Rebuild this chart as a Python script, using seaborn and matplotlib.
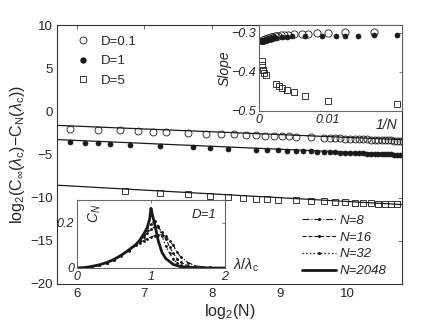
import numpy as np
import pandas as pd
import matplotlib
matplotlib.use("Agg")
import matplotlib.pyplot as plt
import seaborn as sns
from matplotlib.lines import Line2D

# ---------------- main panel data ----------------
N_D01 = [60, 80, 100, 120, 140, 160, 200, 240, 280, 320, 360, 400, 440, 480, 520,
         560, 600, 700, 800, 850, 900, 950, 1000, 1050, 1100, 1150, 1200, 1250,
         1300, 1350, 1400, 1450, 1500, 1550, 1600, 1650, 1700, 1750, 1800]
y_D01 = [-2.00, -2.12, -2.22, -2.28, -2.35, -2.40, -2.51, -2.57, -2.62, -2.67,
         -2.72, -2.77, -2.80, -2.84, -2.88, -2.91, -2.94, -3.00, -3.06, -3.09,
         -3.11, -3.14, -3.16, -3.18, -3.20, -3.22, -3.24, -3.26, -3.28, -3.29,
         -3.31, -3.32, -3.34, -3.35, -3.37, -3.38, -3.39, -3.41, -3.42]

N_D1 = [60, 70, 80, 90, 110, 150, 210, 250, 300, 400, 450, 500, 550, 600, 650,
        700, 750, 800, 850, 900, 950, 1000, 1050, 1100, 1150, 1200, 1250, 1300,
        1350, 1400, 1450, 1500, 1550, 1600, 1650, 1700, 1750, 1800]
y_D1 = [-3.56, -3.63, -3.67, -3.74, -3.86, -4.02, -4.14, -4.20, -4.32, -4.44,
        -4.48, -4.52, -4.55, -4.59, -4.62, -4.65, -4.68, -4.71, -4.73, -4.76,
        -4.78, -4.80, -4.82, -4.84, -4.86, -4.87, -4.89, -4.91, -4.92, -4.94,
        -4.95, -4.97, -4.98, -4.99, -5.01, -5.02, -5.03, -5.04]

N_D5 = [105, 150, 200, 250, 300, 350, 400, 450, 500, 600, 700, 800, 900, 1000,
        1100, 1200, 1300, 1400, 1500, 1600, 1700]
y_D5 = [-9.23, -9.46, -9.61, -9.75, -9.93, -10.00, -10.11, -10.19, -10.23,
        -10.30, -10.37, -10.43, -10.49, -10.53, -10.58, -10.62, -10.66, -10.69,
        -10.72, -10.75, -10.78]

fit_x = [5.7, 10.8]
fit_D01 = [-1.62, -3.28]
fit_D1 = [-3.27, -5.00]
fit_D5 = [-8.55, -10.80]

# ---------------- inset 1: slope vs 1/N ----------------
slope_N_D01 = [60, 80, 100, 120, 140, 160, 200, 240, 280, 320, 360, 400, 440, 480,
               520, 560, 600, 700, 800, 900, 1000, 1200, 1400, 1600, 1800]
slope_D01 = [-0.297, -0.298, -0.300, -0.301, -0.302, -0.303, -0.304, -0.305,
             -0.305, -0.306, -0.307, -0.308, -0.309, -0.310, -0.311, -0.311,
             -0.312, -0.313, -0.314, -0.315, -0.316, -0.317, -0.318, -0.318, -0.319]

slope_N_D1 = [50, 60, 70, 80, 90, 110, 150, 210, 250, 300, 400, 450, 500, 550, 600,
              650, 700, 750, 800, 850, 900, 950, 1000, 1100, 1200, 1300, 1400, 1500,
              1600, 1800, 2000, 2200, 2400, 2700, 3000, 3500, 4000, 5000, 6000, 8000]
slope_D1 = [-0.305, -0.305, -0.307, -0.308, -0.308, -0.309, -0.309, -0.309, -0.310,
            -0.311, -0.313, -0.313, -0.314, -0.314, -0.315, -0.315, -0.316, -0.316,
            -0.317, -0.317, -0.317, -0.318, -0.318, -0.318, -0.319, -0.319, -0.319,
            -0.320, -0.320, -0.320, -0.320, -0.321, -0.321, -0.321, -0.321, -0.322,
            -0.322, -0.322, -0.322, -0.322]

slope_invN_D5 = [0.0200, 0.0100, 0.00667, 0.0050, 0.0040, 0.00333, 0.00286,
                 0.0025, 0.0010, 0.00077, 0.00059, 0.00048, 0.00039]
slope_D5 = [-0.483, -0.474, -0.462, -0.452, -0.446, -0.441, -0.437, -0.431,
            -0.409, -0.402, -0.395, -0.382, -0.371]

# ---------------- inset 2: C_N(lambda), D=1 ----------------
lam = [0, 0.1, 0.2, 0.3, 0.4, 0.5, 0.6, 0.7, 0.8, 0.85, 0.9, 0.95, 1.0, 1.05,
       1.1, 1.15, 1.2, 1.25, 1.3, 1.35, 1.4, 1.5, 1.6, 1.7, 1.8, 1.9, 2.0]
C_8 = [0, 0.002, 0.007, 0.014, 0.024, 0.037, 0.055, 0.077, 0.100, 0.112, 0.122,
       0.131, 0.138, 0.144, 0.148, 0.148, 0.140, 0.122, 0.100, 0.072, 0.050,
       0.024, 0.010, 0.005, 0.003, 0.001, 0.0]
C_16 = [0, 0.002, 0.007, 0.014, 0.024, 0.037, 0.056, 0.079, 0.105, 0.121, 0.138,
        0.156, 0.172, 0.183, 0.180, 0.160, 0.128, 0.095, 0.065, 0.042, 0.026,
        0.010, 0.004, 0.002, 0.001, 0.0, 0.0]
C_32 = [0, 0.002, 0.007, 0.014, 0.024, 0.038, 0.056, 0.080, 0.108, 0.125, 0.145,
        0.170, 0.195, 0.208, 0.185, 0.140, 0.098, 0.065, 0.040, 0.024, 0.014,
        0.005, 0.002, 0.001, 0.0, 0.0, 0.0]
lam_2048 = [0, 0.1, 0.2, 0.3, 0.4, 0.5, 0.6, 0.7, 0.8, 0.85, 0.9, 0.95, 0.98, 1.0,
            1.02, 1.05, 1.1, 1.15, 1.2, 1.3, 1.4, 1.5, 1.6, 1.8, 2.0]
C_2048 = [0, 0.002, 0.007, 0.014, 0.024, 0.038, 0.057, 0.080, 0.105, 0.125, 0.150,
          0.180, 0.215, 0.265, 0.235, 0.195, 0.118, 0.068, 0.042, 0.016, 0.006,
          0.003, 0.001, 0.0, 0.0]

# ---------------- styling ----------------
sns.set_theme(style="white")
plt.rcParams["font.family"] = ["Liberation Sans", "DejaVu Sans"]
plt.rcParams["mathtext.fontset"] = "custom"
plt.rcParams["mathtext.rm"] = "Liberation Sans"
plt.rcParams["mathtext.it"] = "Liberation Sans:italic"
plt.rcParams["mathtext.bf"] = "Liberation Sans:bold"

W, H = 436, 328
fig = plt.figure(figsize=(W / 100, H / 100), dpi=100)

def frac(x0, y0, x1, y1):
    return [x0 / W, 1 - y1 / H, (x1 - x0) / W, (y1 - y0) / H]

# ---------- main axes ----------
ax = fig.add_axes(frac(57, 25, 402, 284))
ink = "#1a1a1a"

for fy in (fit_D01, fit_D1, fit_D5):
    sns.lineplot(x=fit_x, y=fy, ax=ax, color="k", lw=0.9, sort=False,
                 estimator=None)

sns.lineplot(x=np.log2(N_D01), y=y_D01, ax=ax, color="k", ls="", marker="o",
             ms=5.0, mfc="none", mec=ink, mew=0.6, estimator=None, sort=False)
sns.lineplot(x=np.log2(N_D1), y=y_D1, ax=ax, color="k", ls="", marker="o",
             ms=3.6, mfc="k", mec="k", mew=0.5, estimator=None, sort=False)
sns.lineplot(x=np.log2(N_D5), y=y_D5, ax=ax, color="k", ls="", marker="s",
             ms=4.2, mfc="none", mec=ink, mew=0.6, estimator=None, sort=False)

ax.set_xlim(5.71, 10.80)
ax.set_ylim(-20, 10)
ax.set_xticks([6, 7, 8, 9, 10])
ax.set_yticks([-20, -15, -10, -5, 0, 5, 10])
ax.tick_params(direction="in", length=3, width=0.6, top=True, right=True,
               labelsize=9.5, pad=3, color="#555555")
for s in ax.spines.values():
    s.set_color("#333333")
    s.set_linewidth(0.8)
ax.set_xlabel("log$_2$(N)", fontsize=11.5, labelpad=1)
ax.set_ylabel("log$_2$(C$_\\infty$($\\lambda_\\mathrm{c}$)$-$C$_\\mathrm{N}$($\\lambda_\\mathrm{c}$))",
              fontsize=11.5, labelpad=2)

h_main = [
    Line2D([], [], ls="", marker="o", ms=5.0, mfc="none", mec=ink, mew=0.6),
    Line2D([], [], ls="", marker="o", ms=3.6, mfc="k", mec="k"),
    Line2D([], [], ls="", marker="s", ms=4.2, mfc="none", mec=ink, mew=0.6),
]
ax.legend(h_main, ["D=0.1", "D=1", "D=5"], loc="upper left",
          bbox_to_anchor=(0.015, 1.0), frameon=False, fontsize=9.5,
          handletextpad=0.6, labelspacing=0.55, borderpad=0.3, handlelength=1.5)

# ---------- inset 1 ----------
ax1 = fig.add_axes(frac(259, 25, 402, 111))
ax1.set_facecolor("white")
sns.lineplot(x=1 / np.array(slope_N_D01), y=slope_D01, ax=ax1, color="k", ls="",
             marker="o", ms=5.2, mfc="white", mec=ink, mew=0.6, estimator=None,
             sort=False)
sns.lineplot(x=1 / np.array(slope_N_D1), y=slope_D1, ax=ax1, color="k", ls="",
             marker="o", ms=3.6, mfc="k", mec="k", mew=0.5, estimator=None,
             sort=False)
sns.lineplot(x=slope_invN_D5, y=slope_D5, ax=ax1, color="k", ls="", marker="s",
             ms=4.6, mfc="none", mec=ink, mew=0.6, estimator=None, sort=False)
ax1.set_xlim(0, 0.0207)
ax1.set_ylim(-0.5, -0.28)
ax1.set_xticks([0, 0.01])
ax1.set_xticklabels(["0", "0.01"], style="italic")
ax1.set_yticks([-0.5, -0.4, -0.3])
ax1.set_yticklabels(["\u22120.5", "\u22120.4", "\u22120.3"], style="italic")
ax1.tick_params(direction="in", length=2.5, width=0.6, top=False, right=True,
                labelsize=9, pad=2, color="#666666")
for s in ax1.spines.values():
    s.set_color("#666666")
    s.set_linewidth(0.8)
ax1.set_ylabel("Slope", style="italic", fontsize=10, labelpad=0)
ax1.text(0.02, -0.535, "1/N", style="italic", fontsize=10, ha="right",
         va="center")

# ---------- inset 2 ----------
ax2 = fig.add_axes(frac(77, 200, 225, 268))
ax2.set_facecolor("white")
sns.lineplot(x=lam, y=C_8, ax=ax2, color="k", ls="-.", lw=0.8, marker=".",
             ms=2.5, mec="k", estimator=None, sort=False)
sns.lineplot(x=lam, y=C_16, ax=ax2, color="k", ls="--", lw=0.8, marker=".",
             ms=2.5, mec="k", estimator=None, sort=False)
sns.lineplot(x=lam, y=C_32, ax=ax2, color="k", ls=":", lw=1.0, marker=".",
             ms=2.5, mec="k", estimator=None, sort=False)
sns.lineplot(x=lam_2048, y=C_2048, ax=ax2, color="k", ls="-", lw=2.0,
             estimator=None, sort=False)
ax2.set_xlim(0, 2)
ax2.set_ylim(0, 0.302)
ax2.set_xticks([0, 1, 2])
ax2.set_xticklabels(["0", "1", "2"], style="italic")
ax2.set_yticks([0, 0.2])
ax2.set_yticklabels(["0", "0.2"], style="italic")
ax2.tick_params(direction="in", length=2.5, width=0.6, top=True, right=True,
                labelsize=9, pad=2, color="#666666")
for s in ax2.spines.values():
    s.set_color("#666666")
    s.set_linewidth(0.8)
ax2.text(0.12, 0.8, "C$_N$", rotation=90, style="italic", fontsize=10,
         transform=ax2.transAxes, ha="center", va="center")
ax2.text(0.86, 0.78, "D=1", style="italic", fontsize=9.5,
         transform=ax2.transAxes, ha="center", va="center")
fig.text(233 / W, 1 - 265 / H, "$\\lambda/\\lambda_\\mathrm{c}$", fontsize=10.5,
         ha="left", va="center")

h_in = [
    Line2D([], [], color="k", ls="-.", lw=0.8, marker=".", ms=2.5, markevery=[1]),
    Line2D([], [], color="k", ls="--", lw=0.8, marker=".", ms=2.5, markevery=[1]),
    Line2D([], [], color="k", ls=":", lw=1.0, marker=".", ms=2.5, markevery=[1]),
    Line2D([], [], color="k", ls="-", lw=2.0),
]
leg_main = ax.legend_
leg2 = ax.legend(h_in, ["N=8", "N=16", "N=32", "N=2048"], loc="lower left",
                 bbox_to_anchor=(0.675, -0.02), frameon=False,
                 prop={"style": "italic", "size": 9.5}, handlelength=2.6,
                 handletextpad=0.3, labelspacing=0.35)
ax.add_artist(leg_main)

fig.savefig("out.png", dpi=100)
